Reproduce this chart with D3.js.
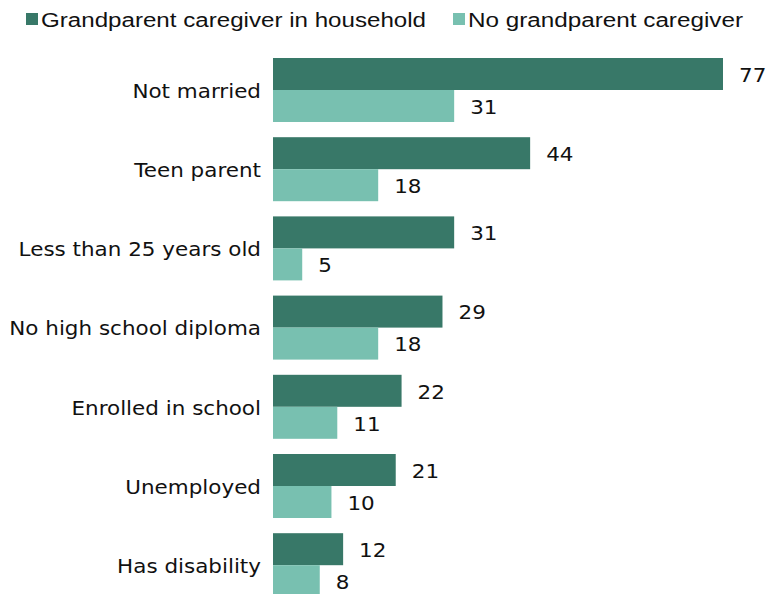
<!DOCTYPE html>
<html><head><meta charset="utf-8">
<script src="https://cdn.jsdelivr.net/npm/d3@7"></script>
<style>body{margin:0;background:#fff;} svg{display:block;}</style>
</head><body>
<svg id="chart" width="775" height="594"></svg>
<script>
const categories = ["Not married","Teen parent","Less than 25 years old","No high school diploma","Enrolled in school","Unemployed","Has disability"];
const seriesNames = ["Grandparent caregiver in household","No grandparent caregiver"];
const grandparent = [77,44,31,29,22,21,12];
const noGrandparent = [31,18,5,18,11,10,8];
const colors = ["#387868","#78c0b0"];

const svg = d3.select("#chart");
const x = d3.scaleLinear().domain([0,77]).range([273,723]);
const y0 = d3.scaleBand().domain(categories).range([58, 58+7*79.2]).paddingInner(0).paddingOuter(0);
const inner = d3.scaleBand().domain([0,1]).range([0,64]);
const FONT = "DejaVu Sans, Verdana, sans-serif";
const widen = function(){ const n=this; const w=n.getComputedTextLength(); n.setAttribute("textLength", w*1.13); n.setAttribute("lengthAdjust","spacingAndGlyphs"); };

const data = categories.map((c,i)=>({c, v:[grandparent[i], noGrandparent[i]]}));
const g = svg.append("g");
const grp = g.selectAll("g.grp").data(data).join("g").attr("transform",d=>`translate(0,${y0(d.c)})`);
grp.selectAll("rect").data(d=>d.v.map((v,k)=>({v,k}))).join("rect")
  .attr("x",x(0)).attr("y",d=>inner(d.k)).attr("width",d=>x(d.v)-x(0)).attr("height",inner.bandwidth())
  .attr("fill",d=>colors[d.k]);
grp.selectAll("text.val").data(d=>d.v.map((v,k)=>({v,k}))).join("text").attr("class","val")
  .attr("x",d=>x(d.v)+16).attr("y",d=>inner(d.k)+inner.bandwidth()/2+1).attr("dy","0.36em")
  .attr("font-family",FONT).attr("font-size",19).attr("fill","#111")
  .text(d=>d.v).each(widen);
grp.append("text").attr("x",261).attr("y",33).attr("dy","0.36em").attr("text-anchor","end")
  .attr("font-family",FONT).attr("font-size",19).attr("fill","#111")
  .text(d=>d.c).each(widen);

// legend
const legX = [26, 453];
const legW = [385, 275];
const leg = svg.append("g").selectAll("g").data(seriesNames).join("g").attr("transform",(d,i)=>`translate(${legX[i]},0)`);
leg.append("rect").attr("x",0).attr("y",13).attr("width",12).attr("height",12).attr("fill",(d,i)=>colors[i]);
leg.append("text").attr("x",15).attr("y",26.5)
  .attr("font-family","Liberation Sans, Arial, sans-serif").attr("font-size",20).attr("fill","#111")
  .attr("textLength",(d,i)=>legW[i]).attr("lengthAdjust","spacingAndGlyphs")
  .text(d=>d);
</script>
</body></html>
